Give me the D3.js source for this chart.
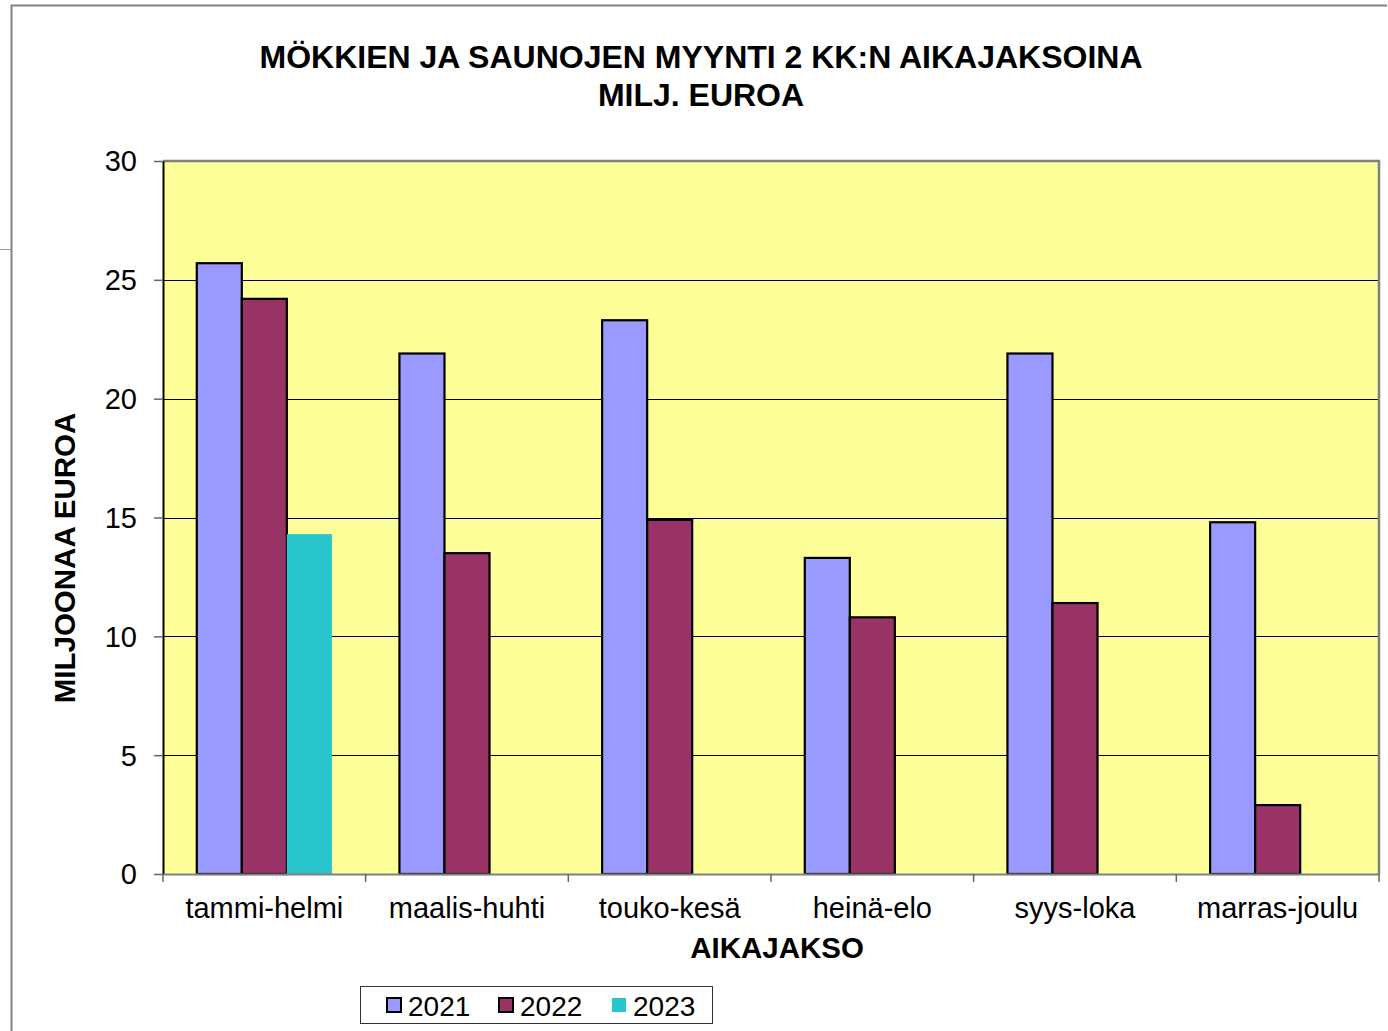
<!DOCTYPE html>
<html>
<head>
<meta charset="utf-8">
<script src="https://cdn.jsdelivr.net/npm/d3@7"></script>
<style>
  body { margin: 0; background: #fff; }
  text { font-family: "Liberation Sans", Arial, sans-serif; fill: #000; }
</style>
</head>
<body>
<div id="chart"></div>
<script>
var categories = ["tammi-helmi", "maalis-huhti", "touko-kesä", "heinä-elo", "syys-loka", "marras-joulu"];
var years = ["2021", "2022", "2023"];
var v2021 = [25.7, 21.9, 23.3, 13.3, 21.9, 14.8];
var v2022 = [24.2, 13.5, 14.9, 10.8, 11.4, 2.9];
var v2023 = [14.3, null, null, null, null, null];
var yTicks = [0, 5, 10, 15, 20, 25, 30];
var colors = ["#9999ff", "#993366", "#29c5cc"];

var series = [v2021, v2022, v2023];

var W = 1388, H = 1031;
var plot = { left: 163, top: 161, right: 1379, bottom: 874 };

var svg = d3.select("#chart").append("svg")
    .attr("width", W)
    .attr("height", H);

// outer frame bits
svg.append("path")
    .attr("d", "M11.5,1031 V5.5 H1387")
    .attr("fill", "none")
    .attr("stroke", "#808080")
    .attr("stroke-width", 2);
svg.append("line")
    .attr("x1", 0).attr("x2", 11).attr("y1", 249.5).attr("y2", 249.5)
    .attr("stroke", "#999").attr("stroke-width", 1);

var x0 = d3.scaleBand().domain(categories).range([plot.left, plot.right]);
var barW = x0.bandwidth() / 4.5;
var x1 = d3.scaleBand().domain(years).range([barW * 0.75, barW * 3.75]);
var y = d3.scaleLinear().domain([0, 30]).range([plot.bottom, plot.top]);

// plot background
svg.append("rect")
    .attr("x", plot.left).attr("y", plot.top)
    .attr("width", plot.right - plot.left).attr("height", plot.bottom - plot.top)
    .attr("fill", "#ffff99");

// gridlines
svg.append("g")
    .selectAll("line")
    .data(yTicks.filter(function (d) { return d > 0 && d < 30; }))
    .join("line")
    .attr("x1", plot.left).attr("x2", plot.right)
    .attr("y1", function (d) { return Math.round(y(d)) + 0.5; })
    .attr("y2", function (d) { return Math.round(y(d)) + 0.5; })
    .attr("stroke", "#000")
    .attr("stroke-width", 1);

// plot border (top, right)
svg.append("path")
    .attr("d", "M" + plot.left + "," + plot.top + " H" + plot.right + " V" + plot.bottom)
    .attr("fill", "none")
    .attr("stroke", "#808080")
    .attr("stroke-width", 2.5);

// bars
var groups = svg.append("g").selectAll("g")
    .data(categories)
    .join("g")
    .attr("transform", function (d) { return "translate(" + x0(d) + ",0)"; });

groups.selectAll("rect")
    .data(function (d, i) {
        return years.map(function (yr, j) { return { year: yr, idx: j, value: series[j][i] }; })
            .filter(function (e) { return e.value != null; });
    })
    .join("rect")
    .attr("x", function (d) { return x1(d.year); })
    .attr("y", function (d) { return y(d.value); })
    .attr("width", x1.bandwidth())
    .attr("height", function (d) { return y(0) - y(d.value); })
    .attr("fill", function (d) { return colors[d.idx]; })
    .attr("stroke", function (d) { return d.idx < 2 ? "#000" : "none"; })
    .attr("stroke-width", 2.2);

// y axis
var yAxis = svg.append("g")
    .attr("transform", "translate(" + plot.left + ",0)")
    .call(d3.axisLeft(y).tickValues(yTicks).tickSize(9).tickPadding(17).tickSizeOuter(0));
yAxis.select(".domain").attr("stroke", "#000").attr("stroke-width", 2);
yAxis.selectAll(".tick line").attr("stroke", "#666").attr("stroke-width", 1.5);
yAxis.selectAll(".tick text")
    .attr("font-size", 29)
    .attr("font-family", "Liberation Sans, Arial, sans-serif")
    .attr("dy", "0.34em");

// x axis
var xAxis = svg.append("g")
    .attr("transform", "translate(0," + plot.bottom + ")")
    .call(d3.axisBottom(x0).tickSize(0).tickPadding(23));
xAxis.select(".domain").attr("stroke", "#808080").attr("stroke-width", 2);
xAxis.selectAll(".tick text")
    .attr("font-size", 29)
    .attr("font-family", "Liberation Sans, Arial, sans-serif")
    .attr("dy", "0.72em");

// category separator ticks
svg.append("g").selectAll("line")
    .data(categories.concat(["end"]))
    .join("line")
    .attr("x1", function (d, i) { return i < categories.length ? x0(d) : plot.right; })
    .attr("x2", function (d, i) { return i < categories.length ? x0(d) : plot.right; })
    .attr("y1", plot.bottom)
    .attr("y2", plot.bottom + 8)
    .attr("stroke", "#666")
    .attr("stroke-width", 1.5);

// titles
var title = svg.append("text")
    .attr("x", 701)
    .attr("text-anchor", "middle")
    .attr("font-weight", "bold")
    .attr("font-size", 32);
title.append("tspan").attr("x", 701).attr("y", 68).text("MÖKKIEN JA SAUNOJEN MYYNTI 2 KK:N AIKAJAKSOINA");
title.append("tspan").attr("x", 701).attr("y", 106).text("MILJ. EUROA");

svg.append("text")
    .attr("x", 777).attr("y", 958)
    .attr("text-anchor", "middle")
    .attr("font-weight", "bold")
    .attr("font-size", 29.5)
    .text("AIKAJAKSO");

svg.append("text")
    .attr("transform", "translate(75,558) rotate(-90)")
    .attr("text-anchor", "middle")
    .attr("font-weight", "bold")
    .attr("font-size", 29.5)
    .text("MILJOONAA EUROA");

// legend
var legend = svg.append("g");
legend.append("rect")
    .attr("x", 360.5).attr("y", 986.5)
    .attr("width", 352).attr("height", 37)
    .attr("fill", "#fff")
    .attr("stroke", "#333")
    .attr("stroke-width", 1);

var legX = [387, 499, 612];
var items = legend.selectAll("g.item")
    .data(years)
    .join("g")
    .attr("class", "item")
    .attr("transform", function (d, i) { return "translate(" + legX[i] + ",998)"; });
items.append("rect")
    .attr("width", 14).attr("height", 14)
    .attr("fill", function (d, i) { return colors[i]; })
    .attr("stroke", function (d, i) { return i < 2 ? "#000" : "none"; })
    .attr("stroke-width", 2);
items.append("text")
    .attr("x", 21).attr("y", 18)
    .attr("font-size", 28)
    .text(function (d) { return d; });
</script>
</body>
</html>
